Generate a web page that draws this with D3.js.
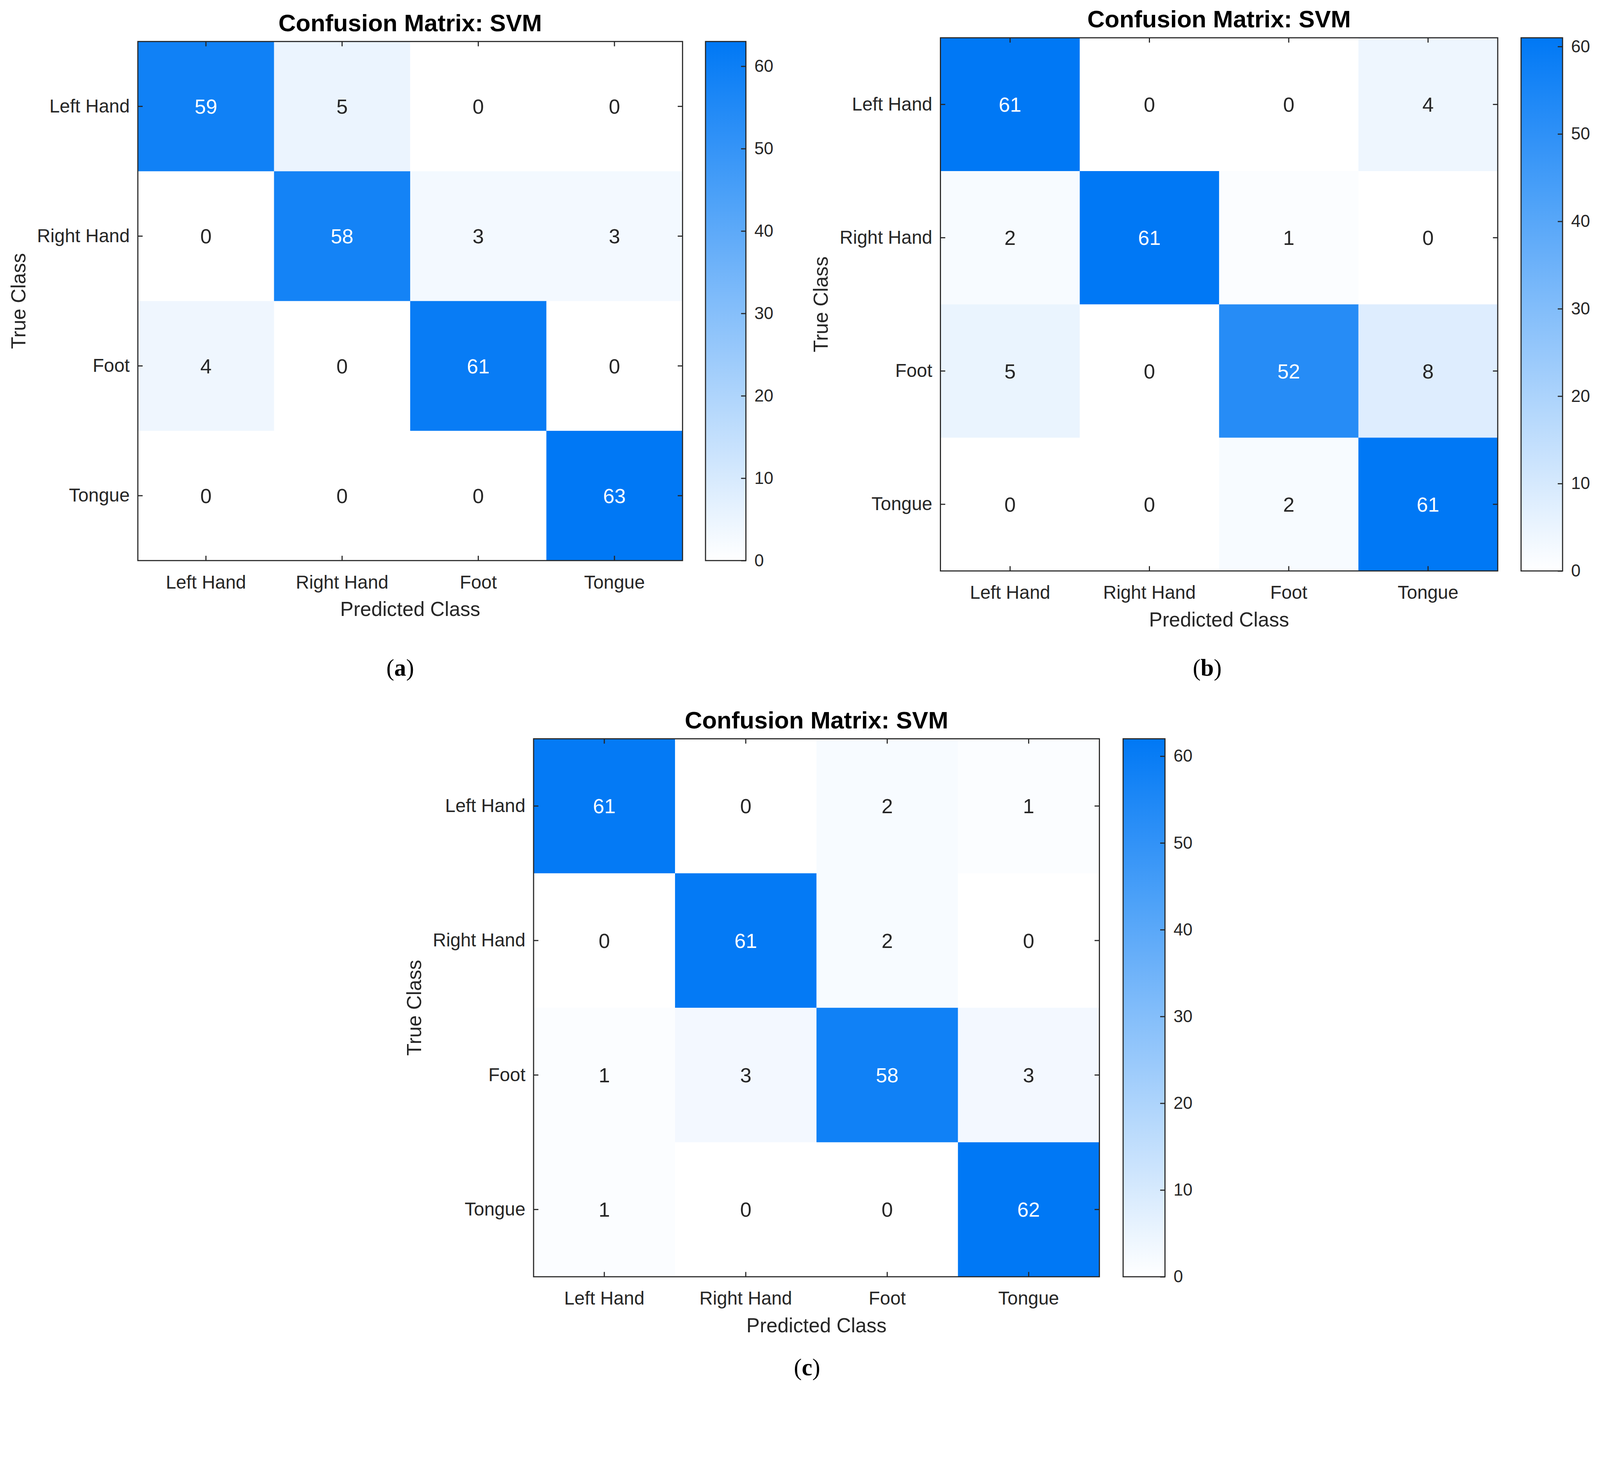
<!doctype html>
<html lang="en">
<head>
<meta charset="utf-8">
<title>Confusion Matrix: SVM</title>
<script src="https://d3js.org/d3.v7.min.js"></script>
<style>
  html, body { margin: 0; padding: 0; background: #fff; overflow: hidden; }
  #chart svg { display: block; width: 100%; height: auto; aspect-ratio: 4318 / 3761; }
  text { fill: #262626; }
</style>
</head>
<body>
<div id="chart"></div>
<script>
// data
const classes = ["Left Hand", "Right Hand", "Foot", "Tongue"];
const matrixA = [[59, 5, 0, 0], [0, 58, 3, 3], [4, 0, 61, 0], [0, 0, 0, 63]];
const matrixB = [[61, 0, 0, 4], [2, 61, 1, 0], [5, 0, 52, 8], [0, 0, 2, 61]];
const matrixC = [[61, 0, 2, 1], [0, 61, 2, 0], [1, 3, 58, 3], [1, 0, 0, 62]];
const colorTicks = [0, 10, 20, 30, 40, 50, 60];
const panelNames = ["a", "b", "c"];
const titleText = "Confusion Matrix: SVM";

const W = 4318, H = 3761;
const ink = "#262626";
const sans = "'Liberation Sans', Arial, Helvetica, sans-serif";

// where each panel sits on the page
const panels = [
    {matrix: matrixA, name: panelNames[0], x: 372, y: 112, w: 1470, h: 1401, cbx: 1904, cbw: 109, lx: 1080, ly: 1824},
    {matrix: matrixB, name: panelNames[1], x: 2538, y: 102, w: 1504, h: 1439, cbx: 4105, cbw: 112, lx: 3258, ly: 1824},
    {matrix: matrixC, name: panelNames[2], x: 1440, y: 1994, w: 1527, h: 1452, cbx: 3031, cbw: 113, lx: 2178, ly: 3712}
];

// viewBox, width follows the window, height follows the aspect ratio
const svg = d3.select("#chart").append("svg")
    .attr("viewBox", `0 0 ${W} ${H}`)
    .attr("preserveAspectRatio", "xMinYMin meet");

svg.append("rect").attr("width", W).attr("height", H).attr("fill", "#fff");

const defs = svg.append("defs");

function styleAxis(g, size) {
    g.select(".domain").remove();
    g.selectAll(".tick line").attr("stroke", ink).attr("stroke-width", 3);
    g.attr("font-family", sans).attr("font-size", size);
    g.selectAll(".tick text").attr("fill", ink);
}

panels.forEach((p, pi) => {
    const cells = [];
    p.matrix.forEach((row, i) => row.forEach((v, j) => cells.push({row: i, col: j, value: v})));
    const vmax = d3.max(cells, d => d.value);

    const x = d3.scaleBand().domain(classes).range([0, p.w]);
    const y = d3.scaleBand().domain(classes).range([0, p.h]);
    const color = d3.scaleLinear().domain([0, vmax]).range(["#ffffff", "#0078f5"]);

    const g = svg.append("g").attr("transform", `translate(${p.x},${p.y})`);

    g.selectAll(".cell")
        .data(cells)
        .enter().append("rect")
        .attr("class", "cell")
        .attr("x", d => x(classes[d.col]))
        .attr("y", d => y(classes[d.row]))
        .attr("width", x.bandwidth() + 0.5)
        .attr("height", y.bandwidth() + 0.5)
        .attr("fill", d => color(d.value));

    g.selectAll(".val")
        .data(cells)
        .enter().append("text")
        .attr("class", "val")
        .attr("x", d => x(classes[d.col]) + x.bandwidth() / 2)
        .attr("y", d => y(classes[d.row]) + y.bandwidth() / 2)
        .attr("dy", "0.36em")
        .attr("text-anchor", "middle")
        .attr("font-family", sans)
        .attr("font-size", 55)
        .style("fill", d => d.value > vmax / 2 ? "#ffffff" : ink)
        .text(d => d.value);

    // ticks on all four sides, pointing inward
    const bottom = g.append("g").attr("transform", `translate(0,${p.h})`)
        .call(d3.axisBottom(x).tickSize(-13).tickPadding(40));
    styleAxis(bottom, 50);
    const left = g.append("g")
        .call(d3.axisLeft(y).tickSize(-13).tickPadding(22));
    styleAxis(left, 50);
    const top = g.append("g").call(d3.axisTop(x).tickSize(-13).tickFormat(""));
    styleAxis(top, 50);
    const right = g.append("g").attr("transform", `translate(${p.w},0)`)
        .call(d3.axisRight(y).tickSize(-13).tickFormat(""));
    styleAxis(right, 50);

    g.append("rect")
        .attr("width", p.w).attr("height", p.h)
        .attr("fill", "none").attr("stroke", ink).attr("stroke-width", 3);

    g.append("text")
        .attr("x", p.w / 2).attr("y", -28)
        .attr("text-anchor", "middle")
        .attr("font-family", sans).attr("font-size", 65).attr("font-weight", "bold")
        .style("fill", "#000")
        .text(titleText);

    g.append("text")
        .attr("x", p.w / 2).attr("y", p.h + 150)
        .attr("text-anchor", "middle")
        .attr("font-family", sans).attr("font-size", 54)
        .text("Predicted Class");

    g.append("text")
        .attr("transform", `translate(-304,${p.h / 2}) rotate(-90)`)
        .attr("text-anchor", "middle")
        .attr("font-family", sans).attr("font-size", 54)
        .text("True Class");

    // colorbar
    const gradId = "grad" + pi;
    const grad = defs.append("linearGradient").attr("id", gradId)
        .attr("x1", 0).attr("y1", 1).attr("x2", 0).attr("y2", 0);
    grad.selectAll("stop")
        .data(d3.range(0, 1.0001, 0.1))
        .enter().append("stop")
        .attr("offset", t => t)
        .attr("stop-color", t => color(t * vmax));

    const c = d3.scaleLinear().domain([0, vmax]).range([p.h, 0]);
    const cb = svg.append("g").attr("transform", `translate(${p.cbx},${p.y})`);
    cb.append("rect")
        .attr("width", p.cbw).attr("height", p.h)
        .attr("fill", `url(#${gradId})`);
    const cAxis = cb.append("g").attr("transform", `translate(${p.cbw},0)`)
        .call(d3.axisRight(c).tickValues(colorTicks).tickSize(-13).tickPadding(23));
    styleAxis(cAxis, 46);
    cb.append("rect")
        .attr("width", p.cbw).attr("height", p.h)
        .attr("fill", "none").attr("stroke", ink).attr("stroke-width", 3);

    // panel label like "(a)"
    const lab = svg.append("text")
        .attr("x", p.lx).attr("y", p.ly)
        .attr("text-anchor", "middle")
        .attr("font-family", "'Liberation Serif', 'Times New Roman', serif")
        .attr("font-size", 64)
        .style("fill", "#000");
    lab.append("tspan").text("(");
    lab.append("tspan").attr("font-weight", "bold").text(p.name);
    lab.append("tspan").text(")");
});
</script>
</body>
</html>
